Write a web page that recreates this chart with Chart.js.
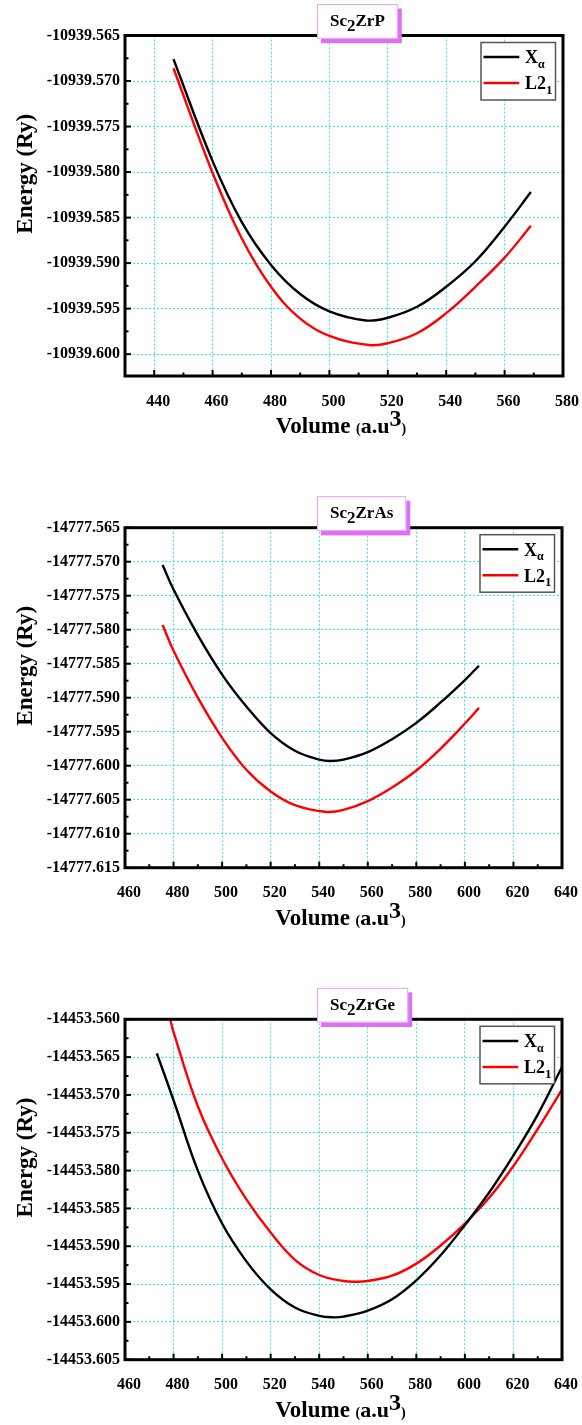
<!DOCTYPE html>
<html>
<head>
<meta charset="utf-8">
<title>Sc2ZrZ – Energy vs Volume</title>
<script src="https://cdn.jsdelivr.net/npm/chart.js@4/dist/chart.umd.min.js"></script>
<style>
  body { margin: 0; background: #fff; }
  canvas { display: block; }
</style>
</head>
<body>
<canvas id="g1" width="582" height="470"></canvas>
<canvas id="g2" width="582" height="480"></canvas>
<canvas id="g3" width="582" height="475"></canvas>
<script>
// ===== Sc2ZrP: values =====
const zrpVolXa = [446.6, 460, 470, 480, 490, 500, 512.5, 520, 530, 540, 550, 560, 569];
const zrpEnXa = [-10939.5676, -10939.5788, -10939.5855, -10939.5902, -10939.5934, -10939.5953, -10939.5963,
  -10939.5960, -10939.5948, -10939.5926, -10939.5898, -10939.5860, -10939.5822];
const zrpVolL21 = [446.6, 460, 470, 480, 490, 500, 513.6, 520, 530, 540, 550, 560, 569];
const zrpEnL21 = [-10939.5686, -10939.5801, -10939.5873, -10939.5926, -10939.5961, -10939.5980, -10939.5990,
  -10939.5988, -10939.5977, -10939.5955, -10939.5926, -10939.5894, -10939.5859];

// ===== Sc2ZrAs =====
const zrasVolXa = [475.5, 480, 490, 500, 510, 520, 530, 540, 544.6, 550, 560, 570, 580, 590, 600, 605.8];
const zrasEnXa = [-14777.5705, -14777.5741, -14777.5808, -14777.5866, -14777.5913, -14777.5952, -14777.5978,
  -14777.5991, -14777.5993, -14777.5991, -14777.5980, -14777.5961, -14777.5937, -14777.5907, -14777.5874, -14777.5853];
const zrasVolL21 = [475.5, 480, 490, 500, 510, 520, 530, 543, 550, 560, 570, 580, 590, 600, 605.8];
const zrasEnL21 = [-14777.5793, -14777.5831, -14777.5900, -14777.5959, -14777.6006, -14777.6038, -14777.6058,
  -14777.6068, -14777.6065, -14777.6052, -14777.6032, -14777.6007, -14777.5975, -14777.5938, -14777.5915];

// ===== Sc2ZrGe =====
const zrgeVolXa = [473.1, 480, 490, 500, 510, 520, 530, 540, 546, 550, 560, 570, 580, 590, 600, 610, 620, 630, 640];
const zrgeEnXa = [-14453.5645, -14453.5707, -14453.5800, -14453.5870, -14453.5920, -14453.5957, -14453.5981,
  -14453.5992, -14453.5994, -14453.5993, -14453.5985, -14453.5970, -14453.5945, -14453.5912, -14453.5872,
  -14453.5829, -14453.5780, -14453.5726, -14453.5663];
const zrgeVolL21 = [478.6, 480, 490, 500, 510, 520, 530, 540, 550, 555.6, 560, 570, 580, 590, 600, 610, 620, 630, 640];
const zrgeEnL21 = [-14453.5600, -14453.5617, -14453.5715, -14453.5784, -14453.5838, -14453.5882, -14453.5918,
  -14453.5938, -14453.5946, -14453.5947, -14453.5946, -14453.5939, -14453.5923, -14453.5899, -14453.5870,
  -14453.5836, -14453.5794, -14453.5745, -14453.5693];

// ===== Tick labels =====
const xTicksP = [440, 460, 480, 500, 520, 540, 560, 580];
const xTicksAsGe = [460, 480, 500, 520, 540, 560, 580, 600, 620, 640];
const yTicksP = [-10939.565, -10939.570, -10939.575, -10939.580, -10939.585, -10939.590, -10939.595, -10939.600];
const yTicksAs = [-14777.565, -14777.570, -14777.575, -14777.580, -14777.585, -14777.590, -14777.595,
  -14777.600, -14777.605, -14777.610, -14777.615];
const yTicksGe = [-14453.560, -14453.565, -14453.570, -14453.575, -14453.580, -14453.585, -14453.590,
  -14453.595, -14453.600, -14453.605];

// ===== Styles =====
const SERIF = '"Liberation Serif", "Times New Roman", serif';
const GRID = '#2ee8f5';
const TICK_FONT = { family: SERIF, size: 16, weight: 'bold' };

const LEGEND_TEXT = [
  [{ t: 'X', size: 18 }, { t: 'α', size: 12, dy: 4.5 }],
  [{ t: 'L2', size: 18 }, { t: '1', size: 13, dy: 4.5 }],
];

// ===== Helpers for text with sub/superscripts =====
function richWidth(ctx, parts) {
  let w = 0;
  parts.forEach((p) => {
    ctx.font = `bold ${p.size}px ${SERIF}`;
    w += ctx.measureText(p.t).width;
  });
  return w;
}

function drawRich(ctx, parts, x, y) {
  parts.forEach((p) => {
    ctx.font = `bold ${p.size}px ${SERIF}`;
    ctx.fillText(p.t, x, y + (p.dy || 0));
    x += ctx.measureText(p.t).width;
  });
}

// ===== Plugin: frame, inward ticks, title box, legend, axis titles =====
function decorPlugin(cfg) {
  return {
    id: 'decor',
    afterDraw(chart) {
      const { ctx, chartArea: a, scales: { x, y } } = chart;
      ctx.save();

      // frame
      ctx.strokeStyle = '#000';
      ctx.lineWidth = 3;
      ctx.strokeRect(a.left, a.top, a.right - a.left, a.bottom - a.top);

      // inward major + minor ticks
      ctx.lineWidth = 2;
      const drawTicks = (scale, vals, horizontal) => {
        const step = vals[1] - vals[0];
        const lo = Math.min(scale.min, scale.max), hi = Math.max(scale.min, scale.max);
        const marks = [];
        vals.forEach((v) => marks.push([v, 6]));
        for (let i = -1; i < vals.length; i++) {
          const m = (i < 0 ? vals[0] : vals[i]) + (i < 0 ? -step / 2 : step / 2);
          if (m > lo && m < hi) marks.push([m, 3.5]);
        }
        marks.forEach(([v, len]) => {
          const p = scale.getPixelForValue(v);
          ctx.beginPath();
          if (horizontal) { ctx.moveTo(p, a.bottom); ctx.lineTo(p, a.bottom - len); }
          else { ctx.moveTo(a.left, p); ctx.lineTo(a.left + len, p); }
          ctx.stroke();
        });
      };
      drawTicks(x, cfg.xTicks, true);
      drawTicks(y, cfg.yTicks, false);

      // title box with shadow
      ctx.textAlign = 'left';
      ctx.textBaseline = 'alphabetic';
      const tw = richWidth(ctx, cfg.formula);
      const bw = tw + 26, bh = 34.7;
      const bx = a.left + 192, by = a.top - 31.5;
      ctx.fillStyle = '#dc6ff3';
      ctx.fillRect(bx + 4, by + 4.5, bw, bh);
      ctx.fillStyle = '#fff';
      ctx.fillRect(bx, by, bw, bh);
      ctx.strokeStyle = '#e8a2f6';
      ctx.lineWidth = 1;
      ctx.strokeRect(bx + 0.5, by + 0.5, bw - 1, bh - 1);
      ctx.fillStyle = '#000';
      drawRich(ctx, cfg.formula, bx + (bw - tw) / 2, by + 22);

      // legend
      const lx = a.right - 82, ly = a.top + 7;
      ctx.fillStyle = '#fff';
      ctx.fillRect(lx, ly, 74.5, 57.5);
      ctx.strokeStyle = '#555';
      ctx.lineWidth = 1.5;
      ctx.strokeRect(lx, ly, 74.5, 57.5);
      chart.data.datasets.forEach((ds, i) => {
        const yy = ly + 14.6 + i * 26;
        ctx.strokeStyle = ds.borderColor;
        ctx.lineWidth = 2.5;
        ctx.beginPath();
        ctx.moveTo(lx + 2.5, yy);
        ctx.lineTo(lx + 38.3, yy);
        ctx.stroke();
        ctx.fillStyle = '#000';
        drawRich(ctx, LEGEND_TEXT[i], lx + 44, yy + 6.3);
      });

      // x axis title
      const vol = [
        { t: 'Volume ', size: 23 }, { t: '(', size: 14 }, { t: 'a.u', size: 22 },
        { t: '3', size: 24, dy: -7 }, { t: ')', size: 14 },
      ];
      const vw = richWidth(ctx, vol);
      drawRich(ctx, vol, (a.left + a.right) / 2 - 3 - vw / 2, a.bottom + 57);

      // y axis title
      ctx.translate(32, (a.top + a.bottom) / 2 - 32);
      ctx.rotate(-Math.PI / 2);
      ctx.textAlign = 'center';
      ctx.font = `bold 23px ${SERIF}`;
      ctx.fillText('Energy (Ry)', 0, 0);

      ctx.restore();
    },
  };
}

// ===== Chart setup =====
function toPoints(vols, ens) {
  return vols.map((v, i) => ({ x: v, y: ens[i] }));
}

function criarGrafico(cfg) {
  return new Chart(document.getElementById(cfg.id), {
    type: 'line',
    data: {
      datasets: [
        { label: 'Xα', data: toPoints(cfg.volXa, cfg.enXa), borderColor: '#000000' },
        { label: 'L21', data: toPoints(cfg.volL21, cfg.enL21), borderColor: '#ff0000' },
      ],
    },
    options: {
      responsive: false,
      animation: false,
      layout: { padding: { top: cfg.top, right: cfg.right, left: 0, bottom: 0 } },
      elements: {
        point: { radius: 0 },
        line: { borderWidth: 2.4, tension: 0.4, fill: false },
      },
      plugins: { legend: { display: false }, tooltip: { enabled: false } },
      scales: {
        x: {
          type: 'linear',
          min: cfg.xMin,
          max: cfg.xMax,
          afterBuildTicks: (s) => { s.ticks = cfg.xTicks.map((v) => ({ value: v })); },
          afterFit: (s) => { s.height = cfg.h - cfg.bottom; },
          // invisible tick marks only push the labels down
          grid: {
            color: GRID, lineWidth: 1, drawTicks: true, tickLength: 15,
            tickWidth: 0, tickColor: 'rgba(0,0,0,0)', borderDash: [2, 2],
          },
          border: { display: false, dash: [2, 2] },
          ticks: {
            font: TICK_FONT, color: '#000', padding: 1, labelOffset: 4,
            maxRotation: 0, autoSkip: false, callback: (v) => v,
          },
        },
        y: {
          type: 'linear',
          min: cfg.yMin,
          max: cfg.yMax,
          afterBuildTicks: (s) => { s.ticks = cfg.yTicks.map((v) => ({ value: v })); },
          afterFit: (s) => { s.width = 125; },
          grid: { color: GRID, lineWidth: 1, drawTicks: false, borderDash: [2, 2] },
          border: { display: false, dash: [2, 2] },
          ticks: {
            font: TICK_FONT, color: '#000', padding: 5,
            autoSkip: false, callback: (v) => v.toFixed(3),
          },
        },
      },
    },
    plugins: [decorPlugin(cfg)],
  });
}

criarGrafico({
  id: 'g1', h: 470, top: 35.5, bottom: 376, right: 19,
  formula: [{ t: 'Sc', size: 17 }, { t: '2', size: 17, dy: 5 }, { t: 'ZrP', size: 17 }],
  xMin: 430, xMax: 580, xTicks: xTicksP,
  yMin: -10939.6024, yMax: -10939.565, yTicks: yTicksP,
  volXa: zrpVolXa, enXa: zrpEnXa, volL21: zrpVolL21, enL21: zrpEnL21,
});

criarGrafico({
  id: 'g2', h: 480, top: 57.7, bottom: 397.7, right: 20,
  formula: [{ t: 'Sc', size: 17 }, { t: '2', size: 17, dy: 5 }, { t: 'ZrAs', size: 17 }],
  xMin: 460, xMax: 640, xTicks: xTicksAsGe,
  yMin: -14777.615, yMax: -14777.565, yTicks: yTicksAs,
  volXa: zrasVolXa, enXa: zrasEnXa, volL21: zrasVolL21, enL21: zrasEnL21,
});

criarGrafico({
  id: 'g3', h: 475, top: 69.3, bottom: 409.7, right: 20,
  formula: [{ t: 'Sc', size: 17 }, { t: '2', size: 17, dy: 5 }, { t: 'ZrGe', size: 17 }],
  xMin: 460, xMax: 640, xTicks: xTicksAsGe,
  yMin: -14453.605, yMax: -14453.560, yTicks: yTicksGe,
  volXa: zrgeVolXa, enXa: zrgeEnXa, volL21: zrgeVolL21, enL21: zrgeEnL21,
});
</script>
</body>
</html>
